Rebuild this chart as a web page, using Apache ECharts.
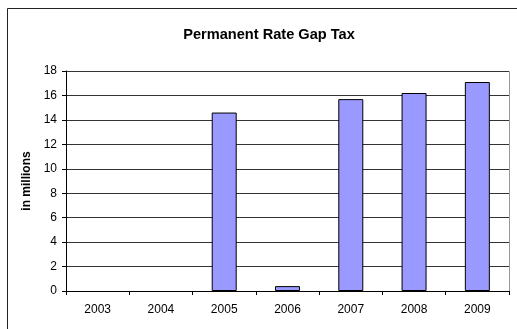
<!DOCTYPE html>
<html>
<head>
<meta charset="utf-8">
<script src="https://cdn.jsdelivr.net/npm/echarts@6/dist/echarts.min.js"></script>
<style>
  html, body { margin: 0; padding: 0; background: #fff; }
  #chart { width: 517px; height: 329px; }
</style>
</head>
<body>
<div id="chart"></div>
<script>
// 数据
const years = ['2003', '2004', '2005', '2006', '2007', '2008', '2009']
const gapTax = [0, 0, 14.6, 0.4, 15.7, 16.2, 17.1]
const yTicks = { min: 0, max: 18, interval: 2 }

const chart = echarts.init(document.getElementById('chart'))

const option = {
  backgroundColor: '#ffffff',
  animation: false,
  textStyle: { fontFamily: 'Liberation Sans, Arial, sans-serif' },
  title: {
    text: 'Permanent Rate Gap Tax',
    left: 264,
    top: 22,
    textAlign: 'center',
    textStyle: { fontSize: 14.6, fontWeight: 'bold', color: '#000' }
  },
  graphic: [
    {
      type: 'rect',
      shape: { x: 7.5, y: 8.5, width: 600, height: 400 },
      style: { fill: 'none', stroke: '#222', lineWidth: 1 },
      silent: true
    },
    {
      // 绘图区边框
      type: 'rect',
      shape: { x: 66.5, y: 71.5, width: 443, height: 220 },
      style: { fill: 'none', stroke: '#999', lineWidth: 1 },
      silent: true,
      z: -1
    }
  ],
  grid: {
    left: 66,
    right: 8,
    top: 71,
    bottom: 38,
    containLabel: false
  },
  xAxis: {
    type: 'category',
    data: years,
    axisLine: { lineStyle: { color: '#000', width: 1 } },
    axisTick: { show: true, inside: false, length: 4, lineStyle: { color: '#000' } },
    axisLabel: { color: '#000', fontSize: 12, margin: 13 }
  },
  yAxis: {
    type: 'value',
    min: yTicks.min,
    max: yTicks.max,
    interval: yTicks.interval,
    name: 'in millions',
    nameLocation: 'middle',
    nameGap: 33,
    nameTextStyle: { fontSize: 12, fontWeight: 'bold', color: '#000' },
    axisLine: { show: true, lineStyle: { color: '#000', width: 1 } },
    axisTick: { show: true, length: 4, lineStyle: { color: '#000' } },
    axisLabel: { color: '#000', fontSize: 12, margin: 9 },
    splitLine: { show: true, lineStyle: { color: '#333', width: 1 } }
  },
  series: [
    {
      type: 'bar',
      // 零值不画柱子
      data: gapTax.map(v => (v === 0 ? '-' : v)),
      barWidth: 25,
      itemStyle: { color: '#9999ff', borderColor: '#000', borderWidth: 1 }
    }
  ]
}

chart.setOption(option)
</script>
</body>
</html>
